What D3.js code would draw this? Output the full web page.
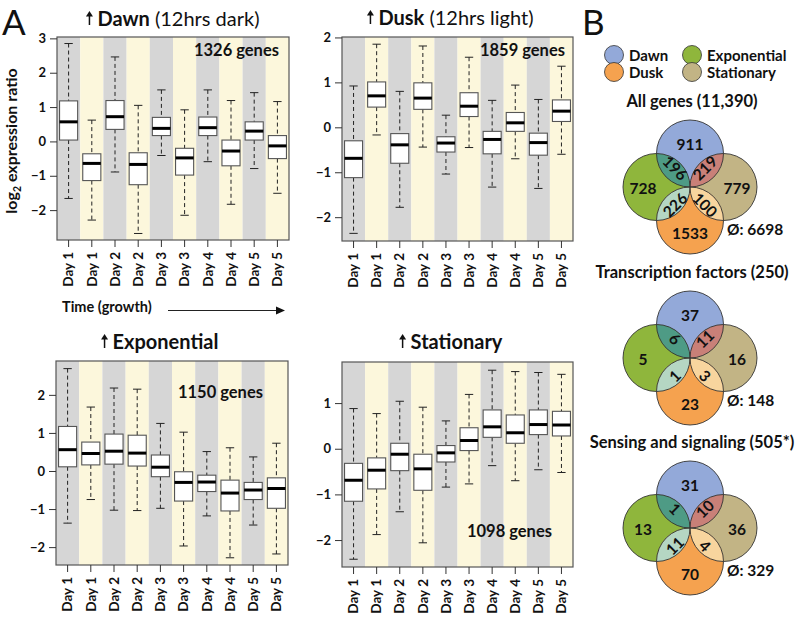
<!DOCTYPE html>
<html><head><meta charset="utf-8">
<script src="https://cdn.jsdelivr.net/npm/d3@7"></script>
<style>body{margin:0;background:#fff} svg{display:block} text{font-family:Lato,"Open Sans",sans-serif}</style>
</head><body><svg id="c" width="796" height="617"></svg>
<script>
// ---------- DATA ----------
const dayLabels = ["Day 1","Day 1","Day 2","Day 2","Day 3","Day 3","Day 4","Day 4","Day 5","Day 5"];
// each entry: [lower whisker, Q1, median, Q3, upper whisker]
const dawnStats = [[-1.66,0.04,0.57,1.18,2.85],[-2.29,-1.14,-0.64,-0.36,0.62],[-0.89,0.35,0.72,1.19,2.46],[-2.68,-1.26,-0.67,-0.33,1.05],
  [-0.41,0.17,0.38,0.70,1.50],[-2.15,-0.98,-0.48,-0.20,0.92],[-0.59,0.17,0.40,0.71,1.50],[-1.83,-0.71,-0.28,0.04,1.19],
  [-0.79,0.04,0.30,0.57,1.42],[-1.51,-0.50,-0.13,0.17,1.16]];
const duskStats = [[-2.36,-1.12,-0.69,-0.30,0.92],[-0.17,0.45,0.70,1.01,1.85],[-1.78,-0.80,-0.39,-0.14,0.80],[-0.44,0.40,0.65,0.99,1.81],
  [-1.04,-0.55,-0.35,-0.21,0.27],[-0.45,0.24,0.47,0.77,1.56],[-1.33,-0.59,-0.27,-0.09,0.60],[-0.70,-0.09,0.10,0.33,0.94],
  [-1.36,-0.62,-0.34,-0.13,0.62],[-0.60,0.13,0.36,0.61,1.36]];
const expStats = [[-1.37,0.11,0.56,1.17,2.69],[-0.75,0.16,0.46,0.76,1.68],[-1.03,0.18,0.52,0.97,2.18],[-1.04,0.13,0.47,0.94,2.15],
  [-0.98,-0.15,0.10,0.42,1.25],[-1.97,-0.79,-0.30,-0.02,1.02],[-1.18,-0.54,-0.29,-0.11,0.51],[-2.28,-1.05,-0.58,-0.24,0.61],
  [-1.42,-0.75,-0.50,-0.30,0.37],[-2.18,-0.98,-0.46,-0.18,0.73]];
const statStats = [[-2.42,-1.15,-0.69,-0.32,0.88],[-1.88,-0.88,-0.47,-0.20,0.77],[-1.38,-0.48,-0.12,0.12,1.04],[-2.06,-0.91,-0.44,-0.12,0.91],
  [-0.84,-0.29,-0.09,0.07,0.61],[-0.77,-0.04,0.18,0.46,1.19],[-0.37,0.25,0.48,0.85,1.72],[-0.70,0.12,0.35,0.74,1.69],
  [-0.46,0.31,0.53,0.85,1.67],[-0.52,0.28,0.52,0.82,1.63]];
const panelTitles = ["Dawn","Dusk","Exponential","Stationary"];
const panelSubtitles = [" (12hrs dark)"," (12hrs light)","",""];
const geneCounts = ["1326 genes","1859 genes","1150 genes","1098 genes"];
const yTicksDawn = [-2,-1,0,1,2,3], yTicksDusk = [-2,-1,0,1,2], yTicksExp = [-2,-1,0,1,2], yTicksStat = [-2,-1,0,1];

const vennSets = ["Dawn","Dusk","Exponential","Stationary"];
const vennTitles = ["All genes (11,390)","Transcription factors (250)","Sensing and signaling (505*)"];
// [Dawn only, Exponential only, Stationary only, Dusk only, Dawn∩Exp, Dawn∩Stat, Exp∩Dusk, Dusk∩Stat]
const vennAll = [911,728,779,1533,196,219,226,100];
const vennTF = [37,5,16,23,6,11,1,3];
const vennSS = [31,13,36,70,1,10,11,4];
const vennNone = [6698,148,329];

// ---------- DRAW ----------
const svg = d3.select("#c");
const fmt = d => d < 0 ? "\u2212" + Math.abs(d) : String(d);

const panels = [
  {stats:dawnStats, ticks:yTicksDawn, x0:57, x1:289, y0:37, y1:240, dom:[-2.87,3.04], tx:171.5, ty:26, cx:279, cy:56},
  {stats:duskStats, ticks:yTicksDusk, x0:342, x1:573, y0:37, y1:241, dom:[-2.53,2.01], tx:449, ty:25, cx:565, cy:56},
  {stats:expStats, ticks:yTicksExp, x0:56, x1:288, y0:361, y1:565, dom:[-2.47,2.89], tx:158.5, ty:349, cx:263, cy:398},
  {stats:statStats, ticks:yTicksStat, x0:342, x1:573, y0:362, y1:567, dom:[-2.59,1.90], tx:449.5, ty:349, cx:552, cy:537}
];

function upArrow(g, x, yb, h) {
  g.append("line").attr("x1",x).attr("x2",x).attr("y1",yb).attr("y2",yb-h+3).attr("stroke","#111").attr("stroke-width",1.5);
  g.append("path").attr("d",`M${x-3.5},${yb-h+4.5}L${x},${yb-h-1}L${x+3.5},${yb-h+4.5}Z`).attr("fill","#111");
}

panels.forEach((p, i) => {
  const g = svg.append("g");
  const x = d3.scaleBand().domain(d3.range(10)).range([p.x0, p.x1]).padding(0);
  const y = d3.scaleLinear().domain(p.dom).range([p.y1, p.y0]);
  // stripes
  g.selectAll("rect.s").data(d3.range(10)).join("rect")
    .attr("x", d => x(d)).attr("y", p.y0).attr("width", x.bandwidth()).attr("height", p.y1 - p.y0)
    .attr("fill", d => d % 2 === 0 ? "#d6d6d6" : "#fcf7dc");
  // boxes
  const bw = x.bandwidth() * 0.78, cw = x.bandwidth() * 0.36;
  const bg = g.selectAll("g.b").data(p.stats).join("g");
  bg.each(function(s, k) {
    const gg = d3.select(this);
    const cx = x(k) + x.bandwidth() / 2;
    gg.append("line").attr("x1",cx).attr("x2",cx).attr("y1",y(s[4])).attr("y2",y(s[3]))
      .attr("stroke","#222").attr("stroke-dasharray","4,3").attr("stroke-width",1);
    gg.append("line").attr("x1",cx).attr("x2",cx).attr("y1",y(s[1])).attr("y2",y(s[0]))
      .attr("stroke","#222").attr("stroke-dasharray","4,3").attr("stroke-width",1);
    gg.append("line").attr("x1",cx-cw/2).attr("x2",cx+cw/2).attr("y1",y(s[4])).attr("y2",y(s[4])).attr("stroke","#222");
    gg.append("line").attr("x1",cx-cw/2).attr("x2",cx+cw/2).attr("y1",y(s[0])).attr("y2",y(s[0])).attr("stroke","#222");
    gg.append("rect").attr("x",cx-bw/2).attr("y",y(s[3])).attr("width",bw).attr("height",y(s[1])-y(s[3]))
      .attr("fill","#fff").attr("stroke","#555").attr("stroke-width",1.1);
    gg.append("line").attr("x1",cx-bw/2).attr("x2",cx+bw/2).attr("y1",y(s[2])).attr("y2",y(s[2]))
      .attr("stroke","#000").attr("stroke-width",3);
  });
  // border
  g.append("rect").attr("x",p.x0).attr("y",p.y0).attr("width",p.x1-p.x0).attr("height",p.y1-p.y0)
    .attr("fill","none").attr("stroke","#555").attr("stroke-width",1.2);
  // axes
  const ya = g.append("g").attr("transform",`translate(${p.x0},0)`)
    .call(d3.axisLeft(y).tickValues(p.ticks).tickSize(7).tickPadding(4).tickFormat(fmt));
  ya.select(".domain").remove();
  ya.selectAll("line").attr("stroke","#333");
  ya.selectAll("text").attr("font-size",13).attr("font-weight","bold").attr("fill","#111").attr("font-family","Lato");
  const xa = g.append("g").attr("transform",`translate(0,${p.y1})`)
    .call(d3.axisBottom(x).tickSize(7).tickFormat(k => dayLabels[k]));
  xa.select(".domain").remove();
  xa.selectAll("line").attr("stroke","#333");
  xa.selectAll("text").attr("font-size",13.5).attr("font-weight","bold").attr("fill","#111").attr("font-family","Lato")
    .attr("text-anchor","end").attr("transform","rotate(-90)").attr("x",-12).attr("y",0).attr("dy","0.35em");
  // title
  const t = g.append("text").attr("x", p.tx + 7).attr("y", p.ty).attr("text-anchor","middle").attr("font-size",20).attr("fill","#111");
  t.append("tspan").attr("font-weight","bold").text(panelTitles[i]);
  t.append("tspan").attr("font-weight","normal").text(panelSubtitles[i]);
  const bb = t.node().getBBox();
  upArrow(g, bb.x - 8, p.ty - 1, 13);
  // count
  g.append("text").attr("x",p.cx).attr("y",p.cy).attr("text-anchor","end").attr("font-size",16.5)
    .attr("font-weight","bold").attr("fill","#111").text(geneCounts[i]);
});

// y label
svg.append("text").attr("transform","translate(17,141) rotate(-90)").attr("text-anchor","middle")
  .attr("font-size",16).attr("font-weight","bold").attr("fill","#111")
  .html('log<tspan font-size="10.5" dy="4">2</tspan><tspan dy="-4"> expression ratio</tspan>');
// time arrow
svg.append("text").attr("x",62).attr("y",312).attr("font-size",14.5).attr("font-weight","bold").attr("fill","#111").text("Time (growth)");
svg.append("line").attr("x1",168).attr("x2",278).attr("y1",310.5).attr("y2",310.5).attr("stroke","#222").attr("stroke-width",1.2);
svg.append("path").attr("d","M276,306.5L285,310.5L276,314.5Z").attr("fill","#111");
// panel letters
svg.append("text").attr("x",2).attr("y",35).attr("font-size",35).attr("fill","#111").attr("font-family","Lato").text("A");
svg.append("text").attr("x",582).attr("y",35).attr("font-size",35).attr("fill","#111").attr("font-family","Lato").text("B");

// ---------- VENN ----------
const setColor = {Dawn:"#93a9d9", Dusk:"#f5a24f", Exponential:"#8fb63c", Stationary:"#c2b485"};
// legend
const legend = [{s:"Dawn",x:614,y:55},{s:"Exponential",x:692,y:55},{s:"Dusk",x:614,y:72},{s:"Stationary",x:692,y:72}];
legend.forEach(l => {
  svg.append("circle").attr("cx",l.x).attr("cy",l.y).attr("r",9.5).attr("fill",setColor[l.s]).attr("stroke","#333").attr("stroke-width",0.8);
  svg.append("text").attr("x",l.x+15).attr("y",l.y+5.5).attr("font-size",15).attr("font-weight","bold").attr("fill","#111").text(l.s);
});

const lensColor = ["#4e9b85","#c98078","#b5d6c3","#f8d59e"];
const vennData = [vennAll, vennTF, vennSS];
const vennY = [187, 358, 528];
const R = 33.5;
vennData.forEach((vals, vi) => {
  const cx = 690, cy = vennY[vi];
  const g = svg.append("g");
  const circ = [
    {s:"Dawn", x:cx, y:cy-R}, {s:"Exponential", x:cx-R, y:cy}, {s:"Stationary", x:cx+R, y:cy}, {s:"Dusk", x:cx, y:cy+R}
  ];
  circ.forEach((c, k) => {
    g.append("clipPath").attr("id",`v${vi}c${k}`).append("circle").attr("cx",c.x).attr("cy",c.y).attr("r",R);
    g.append("circle").attr("cx",c.x).attr("cy",c.y).attr("r",R).attr("fill",setColor[c.s]);
  });
  const pairs = [[0,1],[0,2],[1,3],[3,2]];
  pairs.forEach((pr, k) => {
    const b = circ[pr[1]];
    g.append("circle").attr("cx",b.x).attr("cy",b.y).attr("r",R).attr("fill",lensColor[k]).attr("clip-path",`url(#v${vi}c${pr[0]})`);
  });
  circ.forEach(c => g.append("circle").attr("cx",c.x).attr("cy",c.y).attr("r",R).attr("fill","none").attr("stroke","#333").attr("stroke-width",0.9));
  const pos = [[0,-43,0],[-47,1,0],[47,1,0],[0,46,0],[-15,-19,45],[15,-19,-45],[-15,18,-45],[15,18,45]];
  vals.forEach((v, k) => {
    const [dx, dy, rot] = pos[k];
    g.append("text").attr("transform",`translate(${cx+dx},${cy+dy}) rotate(${rot})`).attr("text-anchor","middle")
      .attr("dy","0.36em").attr("font-size",15.5).attr("font-weight","bold").attr("fill","#111").text(v);
  });
  g.append("text").attr("x",cx+37).attr("y",cy+48).attr("font-size",15.5).attr("font-weight","bold").attr("fill","#111")
    .text("Ø: " + vennNone[vi]);
  g.append("text").attr("x",cx+2).attr("y",cy-R*2-13).attr("text-anchor","middle").attr("font-size",16.5)
    .attr("font-weight","bold").attr("fill","#111").text(vennTitles[vi]);
});
</script></body></html>
